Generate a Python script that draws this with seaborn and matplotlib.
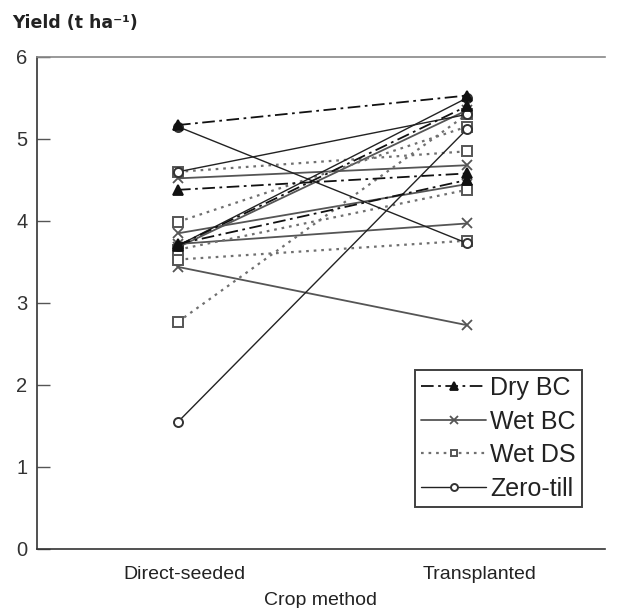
import matplotlib
matplotlib.use("Agg")
import matplotlib.pyplot as plt
from matplotlib.lines import Line2D
import seaborn as sns
import pandas as pd

# ---- data ----
methods = ["Direct-seeded", "Transplanted"]
systems = ["Dry BC", "Wet BC", "Wet DS", "Zero-till"]

dry_bc_direct = [5.17, 4.38, 3.72, 3.70]
dry_bc_trans = [5.53, 4.58, 4.50, 5.40]

wet_bc_direct = [4.52, 3.85, 3.72, 3.44, 3.68]
wet_bc_trans = [4.68, 4.45, 3.97, 2.73, 5.35]

wet_ds_direct = [4.60, 3.99, 3.53, 2.77, 3.65]
wet_ds_trans = [4.85, 5.15, 3.76, 5.30, 4.38]

zero_direct = [5.15, 1.55, 3.70, 4.60]
zero_trans = [3.73, 5.12, 5.50, 5.30]

series = {
    "Dry BC": (dry_bc_direct, dry_bc_trans),
    "Wet BC": (wet_bc_direct, wet_bc_trans),
    "Wet DS": (wet_ds_direct, wet_ds_trans),
    "Zero-till": (zero_direct, zero_trans),
}

rows = []
for sys_name, (d, t) in series.items():
    for i, (a, b) in enumerate(zip(d, t)):
        uid = f"{sys_name}-{i}"
        rows.append({"system": sys_name, "id": uid, "x": 1, "yield": a})
        rows.append({"system": sys_name, "id": uid, "x": 2, "yield": b})
df = pd.DataFrame(rows)

styles = {
    "Dry BC": dict(color="#111111", marker="^", linestyle=(0, (7, 2.5, 1.5, 2.5)), mfc="#111111", mec="#111111", ms=7, lw=1.3, z=5),
    "Wet BC": dict(color="#555555", marker="x", linestyle="-", mfc="none", mec="#555555", ms=7, lw=1.3, z=2),
    "Wet DS": dict(color="#707070", marker="s", linestyle=(0, (1.2, 2.2)), mfc="white", mec="#555555", ms=6.5, lw=1.6, mew=1.4, z=3),
    "Zero-till": dict(color="#222222", marker="o", linestyle="-", mfc="white", mec="#333333", ms=6.5, lw=1.0, mew=1.4, z=4),
}

sns.set_style("white")
plt.rcParams["font.family"] = ["Liberation Sans", "DejaVu Sans"]

fig = plt.figure(figsize=(6.21, 6.08), dpi=100)
ax = fig.add_axes([37 / 621, 1 - 549 / 608, (605 - 37) / 621, (549 - 57) / 608])

for sys_name in systems:
    sub = df[df["system"] == sys_name]
    st = styles[sys_name]
    sns.lineplot(data=sub, x="x", y="yield", units="id", estimator=None,
                 ax=ax, legend=False, sort=False, zorder=st["z"],
                 color=st["color"], marker=st["marker"], linestyle=st["linestyle"],
                 markerfacecolor=st["mfc"], markeredgecolor=st["mec"],
                 markersize=st["ms"], linewidth=st["lw"],
                 markeredgewidth=st.get("mew", 1.3))

ax.set_xlim(0.512, 2.478)
ax.set_ylim(0, 6)
ax.set_yticks([0, 1, 2, 3, 4, 5, 6])
ax.set_yticklabels(["0", "1", "2", "3", "4", "5", "6"], fontsize=14.5, color="#333333")
ax.set_xticks([1.024, 2.045])
ax.set_xticklabels(methods, fontsize=14, color="#222222")
ax.set_xticks([1.536], minor=True)
ax.tick_params(axis="x", which="major", length=0, pad=12.5)
ax.tick_params(axis="x", which="minor", direction="in", length=7, width=1.2, color="#666666")
ax.tick_params(axis="y", direction="in", length=9, width=1, color="#555555", pad=7, left=True)
ax.set_xlabel("Crop method", fontsize=14, color="#222222", labelpad=6)
ax.set_ylabel("")

for side in ["left", "bottom"]:
    ax.spines[side].set_color("#333333")
    ax.spines[side].set_linewidth(1.2)
ax.spines["top"].set_color("#888888")
ax.spines["top"].set_linewidth(1.2)
ax.spines["right"].set_visible(False)

handles = []
for sys_name in systems:
    st = styles[sys_name]
    handles.append(Line2D([], [], color=st["color"], marker=st["marker"], linestyle=st["linestyle"],
                          markerfacecolor=st["mfc"], markeredgecolor=st["mec"],
                          markersize=st["ms"] - 1.5, linewidth=st["lw"],
                          markeredgewidth=st.get("mew", 1.3)))
leg = ax.legend(handles, systems, loc="lower right", bbox_to_anchor=(0.9595, 0.0854),
                borderaxespad=0, fontsize=18, frameon=True, fancybox=False,
                handlelength=2.6, handletextpad=0.15, borderpad=0.25, labelspacing=0.38)
leg.set_zorder(10)
leg.get_frame().set_edgecolor("#111111")
leg.get_frame().set_linewidth(1.4)
for t in leg.get_texts():
    t.set_color("#222222")

fig.text(12 / 621, 1 - 23 / 608, "Yield (t ha⁻¹)", fontsize=12.5, fontweight="bold",
         color="#222222", ha="left", va="center", family=["DejaVu Sans"])

fig.savefig("out.png", dpi=100, facecolor="white")
